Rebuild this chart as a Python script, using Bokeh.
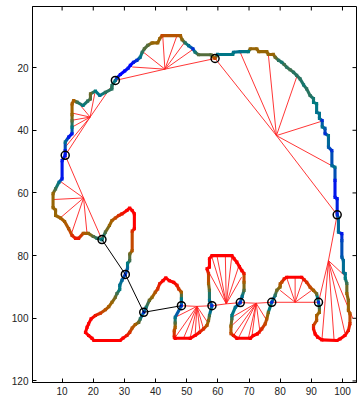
from bokeh.plotting import figure
from bokeh.models import Range1d, FixedTicker, ColumnDataSource
from bokeh.transform import linear_cmap
from bokeh.embed import file_html
from bokeh.resources import INLINE

# ---------------- data ----------------
# closed boundary contour (x, y) with a colour value (0 = blue ... 1 = red)
contour_x = [22.8, 23.9, 25.2, 26.0, 27.1, 28.2, 29.2, 30.8, 31.7, 32.5, 33.2, 33.2, 32.5, 32.5, 31.7, 31.7, 31.0, 31.0,
             30.3, 29.2, 28.5, 28.5, 27.6, 27.1, 26.0, 25.0, 23.9, 22.3, 20.7, 19.3, 18.5, 18.0, 17.5, 18.5, 19.6,
             20.2, 28.6, 29.6, 30.8, 31.7, 32.5, 33.5, 34.6, 35.1,
             36.2, 37.0, 38.0, 38.9, 39.9, 40.7, 41.3, 42.4, 43.3, 44.4, 45.8, 46.9, 47.4, 48.3, 48.3,
             48.3, 46.3, 46.3, 46.3, 46.0, 46.0, 46.3, 51.1, 52.7, 54.1, 55.4, 56.5, 57.0, 57.3,
             58.1, 57.3, 57.3, 57.0, 57.0, 56.5, 57.3, 57.3, 58.1, 64.5, 65.2, 66.1, 66.9, 67.7, 68.4, 68.4, 68.4, 67.8,
             67.2, 65.6, 64.5, 64.5, 64.2, 64.2, 65.0, 66.1, 70.4, 71.4, 72.7, 74.1, 75.2, 75.7, 76.2,
             77.3, 78.4, 78.9, 80.0, 80.0, 80.5, 81.3, 82.1, 86.9, 87.7, 88.5, 89.6, 90.7, 91.7,
             92.3, 92.6, 92.6, 91.7, 91.7, 90.7, 90.7, 91.2, 92.0, 93.4, 98.2, 99.2, 100.8, 101.9, 102.4, 102.4,
             101.9, 101.9, 101.4, 101.4, 100.9, 100.9, 100.3, 100.3, 99.8, 99.8, 99.8, 98.7, 98.7,
             98.3, 98.3, 97.6, 97.6, 97.6, 96.6, 96.6, 95.5, 95.5, 94.4, 94.4, 93.5, 93.5, 92.6, 92.6, 91.7, 91.7,
             90.7, 90.7, 89.6, 88.5, 87.5, 86.4, 85.3, 84.3, 83.2, 82.1, 81.3, 80.5, 79.5, 78.4, 77.8, 76.2, 75.7,
             73.1, 72.5, 70.4, 69.8, 67.2, 65.0, 64.8, 59.9,
             59.1, 57.8, 53.8, 52.7, 52.0, 50.6, 49.5, 48.5, 48.0, 42.1, 41.3, 40.7, 38.9, 37.5, 36.4, 35.7, 35.1,
             34.0, 32.9, 31.9, 31.2, 30.1, 28.7, 27.6,
             27.1, 26.0, 26.0, 23.9, 22.1, 20.7, 19.1, 19.1, 18.2, 16.7, 14.8, 13.7, 13.2, 13.2, 13.2, 13.2, 13.2,
             12.1, 11.0, 11.0,
             11.0, 10.0, 10.0, 9.0, 7.9, 7.1, 7.1, 7.9, 7.9, 9.5, 10.8, 12.1, 13.2, 14.3, 15.3, 16.8, 18.4, 20.0,
             21.2, 22.8]
contour_y = [74.9, 72.5, 70.4, 68.8, 68.0, 67.2, 66.7, 65.6, 64.8, 65.6, 66.7, 71.4, 72.2, 78.4, 79.5, 81.6, 82.5, 84.0,
             86.0, 87.9, 89.5, 90.8, 92.1, 93.3, 94.9, 96.3, 97.3, 98.4, 99.1, 100.2, 101.8, 102.9, 104.5, 105.5, 106.4,
             107.1, 107.1, 106.3, 105.5, 104.5, 103.1, 102.0, 101.3, 100.2,
             98.1, 96.5, 94.3, 93.3, 91.7, 90.6, 89.0, 88.0, 87.1, 88.0, 88.5, 89.5, 90.6, 91.7, 93.8,
             96.0, 99.7, 101.5, 102.9, 104.0, 106.0, 106.4, 106.4, 105.5, 104.5, 103.4, 102.3, 100.7, 99.1,
             96.0, 94.3, 91.1, 88.9, 85.7, 84.2, 83.7, 81.0, 80.0, 80.0, 81.0, 82.1, 83.5, 84.8, 85.7, 88.5, 91.1, 93.0,
             95.0, 96.5, 99.1, 100.1, 102.5, 104.9, 105.5, 106.4, 106.4, 105.5, 105.0, 103.4, 101.8, 100.2, 98.1,
             94.9, 92.7, 91.1, 90.0, 89.0, 88.5, 87.4, 86.9, 86.9, 87.7, 88.5, 90.1, 91.1, 92.2,
             94.9, 96.5, 98.1, 99.1, 100.7, 102.3, 103.3, 105.0, 106.0, 106.9, 107.1, 106.6, 105.5, 103.9, 101.7, 98.5,
             97.5, 94.3, 92.1, 88.9, 87.3, 85.7, 85.3, 81.6, 80.5, 75.2, 73.0, 72.5, 68.0,
             67.0, 61.8, 61.4, 56.0, 51.8, 51.3, 46.5, 45.4, 41.7, 41.1, 39.4, 38.9, 36.9, 36.2, 34.6, 34.3, 31.5,
             31.1, 29.9, 28.9, 26.8, 25.5, 23.6, 22.5, 21.5, 20.7, 19.9, 19.0, 18.3, 17.7, 16.7, 15.8, 15.8, 14.9,
             14.9, 14.0, 14.0, 14.9, 14.9, 15.1, 15.8, 15.8,
             17.1, 15.9, 15.9, 15.1, 14.0, 13.0, 12.1, 11.1, 9.8, 9.8, 10.8, 12.1, 12.1, 12.9, 14.0, 15.1, 16.7,
             17.7, 18.3, 19.3, 20.2, 21.1, 22.2, 23.3,
             24.1, 25.7, 26.8, 27.9, 28.9, 27.5, 28.4, 30.0, 30.7, 32.1, 31.0, 30.5, 31.6, 35.0, 37.0, 39.0, 41.1,
             42.2, 43.8, 46.5,
             48.0, 49.7, 55.5, 56.6, 58.7, 60.2, 64.7, 65.5, 67.2, 68.0, 69.1, 71.4, 73.6, 74.5, 74.5, 72.9, 72.9, 73.9,
             74.5, 74.9]
contour_v = [0.35, 0.55, 0.7, 0.75, 0.85, 0.9, 0.95, 1.0, 1.0, 1.0, 1.0, 1.0, 0.9, 0.8, 0.6, 0.5, 0.35, 0.25,
             0.1, 0.25, 0.3, 0.35, 0.5, 0.6, 0.7, 0.75, 0.8, 0.88, 0.95, 1.0, 1.0, 1.0, 1.0, 1.0, 1.0,
             1.0, 1.0, 1.0, 0.95, 0.9, 0.8, 0.75, 0.6, 0.45,
             0.1, 0.4, 0.6, 0.7, 0.8, 0.9, 0.95, 1.0, 1.0, 1.0, 1.0, 0.95, 0.9, 0.75, 0.35,
             0.1, 0.3, 0.55, 0.75, 0.85, 0.95, 1.0, 1.0, 1.0, 0.95, 0.9, 0.8, 0.65, 0.5,
             0.1, 0.3, 0.55, 0.75, 0.9, 1.0, 1.0, 1.0, 1.0, 1.0, 1.0, 1.0, 1.0, 1.0, 0.95, 0.75, 0.55, 0.3,
             0.1, 0.3, 0.35, 0.5, 0.7, 0.85, 0.95, 1.0, 1.0, 1.0, 1.0, 0.9, 0.85, 0.8, 0.6,
             0.1, 0.45, 0.6, 0.7, 0.8, 0.85, 0.95, 1.0, 1.0, 0.95, 0.9, 0.85, 0.75, 0.6,
             0.1, 0.5, 0.7, 0.75, 0.8, 0.9, 0.95, 1.0, 1.0, 1.0, 1.0, 1.0, 1.0, 0.95, 0.9, 0.8,
             0.75, 0.65, 0.7, 0.5, 0.35, 0.3, 0.3, 0.25, 0.2, 0.15, 0.05, 0.25, 0.25,
             0.1, 0.05, 0.05, 0.05, 0.3, 0.25, 0.1, 0.2, 0.3, 0.1, 0.2, 0.3, 0.1, 0.3, 0.3, 0.3, 0.35,
             0.35, 0.4, 0.45, 0.45, 0.4, 0.45, 0.45, 0.45, 0.5, 0.45, 0.5, 0.4, 0.45, 0.6, 0.7, 0.7, 0.7,
             0.7, 0.7, 0.7, 0.35, 0.3, 0.3, 0.35, 0.3,
             0.85, 0.55, 0.55, 0.4, 0.1, 0.3, 0.45, 0.65, 0.75, 0.85, 0.7, 0.7, 0.7, 0.55, 0.55, 0.45, 0.3,
             0.1, 0.05, 0.0, 0.05, 0.0, 0.0, 0.1,
             0.3, 0.45, 0.45, 0.45, 0.3, 0.35, 0.6, 0.55, 0.45, 0.35, 0.5, 0.75, 0.75, 0.7, 0.55, 0.35, 0.05,
             0.05, 0.3, 0.05,
             0.05, 0.05, 0.05, 0.3, 0.5, 0.7, 0.7, 0.7, 0.7, 0.75, 0.75, 0.8, 0.9, 0.95, 0.95, 0.8, 0.7, 0.55,
             0.45, 0.35]

# skeleton end / junction nodes (circles)
node_x = [11.0, 27.1, 59.1, 98.3, 22.8, 30.3, 36.2, 48.3, 58.1, 67.2, 77.3, 92.3]
node_y = [48.0, 24.1, 17.1, 67.0, 74.9, 86.0, 98.1, 96.0, 96.0, 95.0, 94.9, 94.9]

# fan centres and the boundary points they are joined to
fan_cx = [19.0, 43.0, 78.8, 95.5, 84.8, 62.7, 53.3, 72.3, 16.9]
fan_cy = [35.8, 20.5, 41.7, 81.6, 94.9, 95.4, 96.2, 95.2, 61.6]
fan_tx = [[11.0, 13.2, 13.2, 13.2, 15.9, 20.5],
          [32.5, 36.0, 42.3, 46.8, 49.3, 52.0],
          [67.2, 76.2, 85.3, 93.4, 97.1],
          [101.0, 103.3, 100.8, 97.3, 93.4],
          [80.0, 82.1, 84.8, 87.4, 90.1],
          [56.5, 58.1, 59.7, 62.4, 64.5, 66.6, 67.6],
          [46.3, 46.3, 49.0, 51.1, 52.7, 54.3, 55.4, 56.7],
          [64.5, 64.5, 65.0, 66.6, 69.8, 70.9, 73.6, 75.7],
          [9.0, 7.3, 9.5, 13.0, 18.0]]
fan_ty = [[45.4, 34.5, 36.8, 39.0, 32.1, 28.2],
          [19.8, 15.0, 9.8, 10.0, 12.0, 14.2],
          [15.2, 15.8, 23.0, 37.1, 51.6],
          [86.7, 100.0, 104.8, 107.0, 107.0],
          [91.1, 87.1, 87.1, 87.4, 91.1],
          [84.2, 80.5, 80.0, 80.0, 80.0, 83.7, 86.9],
          [99.7, 106.1, 106.3, 106.3, 105.5, 104.5, 103.4, 101.3],
          [99.7, 102.3, 105.5, 106.3, 106.3, 106.1, 105.0, 100.7],
          [56.0, 62.1, 67.9, 73.0, 73.0]]

# red skeleton paths (nodes and fan centres)
red_path_x = [[11.0, 19.0, 27.1, 43.0, 59.1, 78.8, 98.3, 95.5, 92.3, 84.8, 77.3, 72.3, 67.2, 62.7, 58.1, 53.3, 48.3],
              [11.0, 16.9, 22.8]]
red_path_y = [[48.0, 35.8, 24.1, 20.5, 17.1, 41.7, 67.0, 81.6, 94.9, 94.9, 94.9, 95.2, 95.0, 95.4, 96.0, 96.2, 96.0],
              [48.0, 61.6, 74.9]]

# black path between nodes
black_x = [22.8, 30.3, 36.2, 48.3]
black_y = [74.9, 86.0, 98.1, 96.0]

x_ticks = [10, 20, 30, 40, 50, 60, 70, 80, 90, 100]
y_ticks = [20, 40, 60, 80, 100, 120]

# ---------------- colour map (blue -> teal -> olive -> brown -> red) ----------------
anchors = [(0.0, (0, 0, 255)), (0.22, (0, 100, 160)), (0.35, (0, 122, 128)), (0.5, (60, 112, 80)),
           (0.62, (118, 104, 30)), (0.72, (158, 100, 0)), (0.85, (196, 72, 0)), (1.0, (255, 0, 0))]
palette = []
for i in range(256):
    t = i / 255
    for (t0, c0), (t1, c1) in zip(anchors[:-1], anchors[1:]):
        if t0 <= t <= t1:
            f = (t - t0) / (t1 - t0)
            c = tuple(int(round(a + (b - a) * f)) for a, b in zip(c0, c1))
            palette.append("#%02x%02x%02x" % c)
            break

# ---------------- figure ----------------
XR = (0.5, 104.5)
YR = (120.5, 0.5)
p = figure(width=359, height=398, x_range=Range1d(*XR), y_range=Range1d(*YR),
           output_backend="svg", toolbar_location=None,
           min_border_left=32, min_border_right=3, min_border_top=6, min_border_bottom=16)
p.grid.visible = False
p.outline_line_color = "black"
p.outline_line_width = 1
p.background_fill_color = "white"

font = "Liberation Sans"
for ax in (p.xaxis[0], p.yaxis[0]):
    ax.major_tick_in = 4
    ax.major_tick_out = 0
    ax.minor_tick_line_color = None
    ax.axis_line_color = "black"
    ax.major_tick_line_color = "black"
    ax.major_label_text_font = font
    ax.major_label_text_font_size = "10px"
    ax.major_label_text_color = "#222222"
    ax.major_label_standoff = 4
p.xaxis[0].ticker = FixedTicker(ticks=x_ticks)
p.yaxis[0].ticker = FixedTicker(ticks=y_ticks)

# inward ticks on the top and right edges of the box (MATLAB style)
tick_len_x = 4 / 3.12   # 4 px expressed in x data units
tick_len_y = 4 / 3.13   # 4 px expressed in y data units
p.segment(x_ticks, [YR[1]] * len(x_ticks), x_ticks, [YR[1] + tick_len_y] * len(x_ticks),
          line_color="black", line_width=1)
p.segment([XR[1]] * len(y_ticks), y_ticks, [XR[1] - tick_len_x] * len(y_ticks), y_ticks,
          line_color="black", line_width=1)

# fan lines
fx0, fy0, fx1, fy1 = [], [], [], []
for cx, cy, txs, tys in zip(fan_cx, fan_cy, fan_tx, fan_ty):
    for tx, ty in zip(txs, tys):
        fx0.append(cx); fy0.append(cy); fx1.append(tx); fy1.append(ty)
p.segment(fx0, fy0, fx1, fy1, line_color="#ff2020", line_width=1, line_alpha=0.9)
p.multi_line(red_path_x, red_path_y, line_color="#ff2020", line_width=1, line_alpha=0.9)

# boundary
n = len(contour_x)
seg = ColumnDataSource(dict(
    x0=contour_x[:-1], y0=contour_y[:-1], x1=contour_x[1:], y1=contour_y[1:],
    v=[(contour_v[i] + contour_v[i + 1]) / 2 for i in range(n - 1)]))
cmap = linear_cmap("v", palette, 0, 1)
p.segment("x0", "y0", "x1", "y1", source=seg, line_color=cmap, line_width=3.1)
pts = ColumnDataSource(dict(x=contour_x, y=contour_y, v=contour_v))
p.rect("x", "y", width=1, height=1, source=pts, fill_color=cmap, line_color=None)

# black skeleton
p.line(black_x, black_y, line_color="black", line_width=1)

# nodes
p.scatter(node_x, node_y, marker="circle", size=8, fill_color=None, line_color="black", line_width=1.5)

open("out.html", "w").write(file_html(p, INLINE))
